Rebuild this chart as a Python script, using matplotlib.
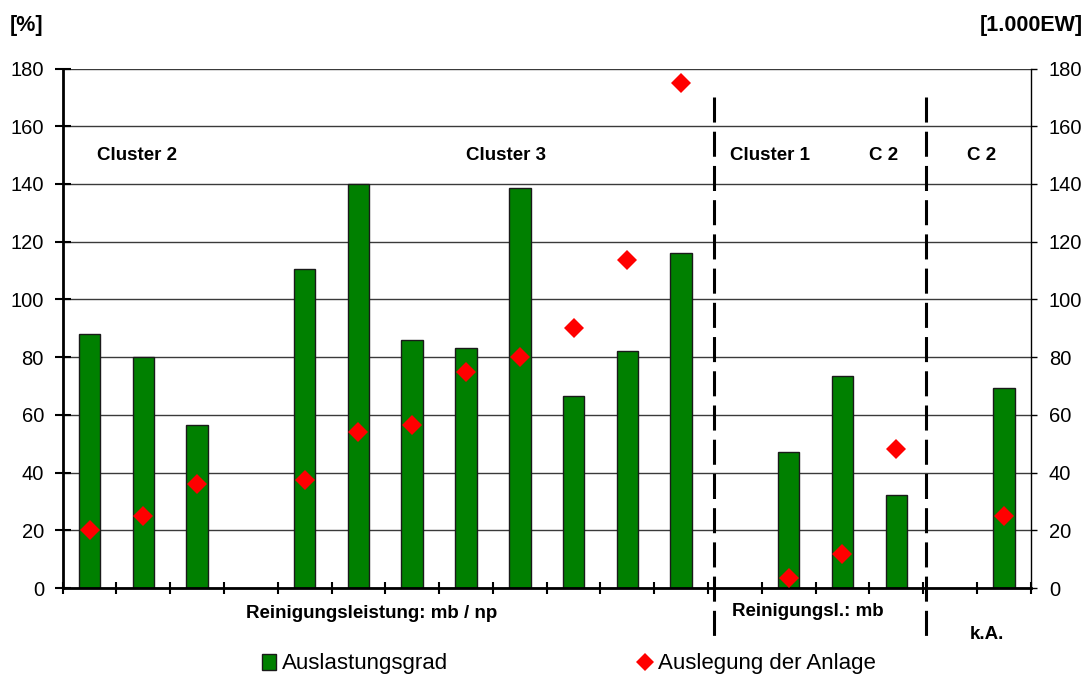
import numpy as np
import matplotlib
matplotlib.use("Agg")
import matplotlib.pyplot as plt
from matplotlib.lines import Line2D
from matplotlib.patches import Patch

plt.rcParams['font.family'] = ['Liberation Sans', 'DejaVu Sans']

# ---- data ----
auslastung = [88, 80, 56.5, None, 110.5, 140, 86, 83, 138.5, 66.5, 82, 116,
              None, 47.2, 73.4, 32.2, None, 69.3]
auslegung = [20, 25, 36, None, 37.4, 54, 56.5, 75, 80, 90, 113.5, 175,
             None, 3.6, 11.7, 48, None, 25]
yticks = [0, 20, 40, 60, 80, 100, 120, 140, 160, 180]
top_labels = ["Cluster 2", "Cluster 3", "Cluster 1", "C 2", "C 2"]
top_label_x = [1.385, 8.24, 13.16, 15.26, 17.09]
bottom_labels = ["Reinigungsleistung: mb / np", "Reinigungsl.: mb", "k.A."]
bottom_label_x = [5.74, 13.86, 17.18]
bottom_label_y = [-9.0, -8.2, -16.0]
divider_x = [12.12, 16.06]
legend_labels = ["Auslastungsgrad", "Auslegung der Anlage"]

n = len(auslastung)
x = np.arange(n) + 0.5
bar_mask = np.array([v is not None for v in auslastung])
bar_vals = np.array([v if v is not None else 0 for v in auslastung], float)
dia_mask = np.array([v is not None for v in auslegung])
dia_vals = np.array([v if v is not None else 0 for v in auslegung], float)

fig = plt.figure(figsize=(10.86, 6.77), dpi=100)
ax = fig.add_axes([62.7/1086, 1-588/677, (1030.7-62.7)/1086, (588-68.5)/677])

ax.set_xlim(0, n)
ax.set_ylim(0, 180)
ax.set_axisbelow(True)
ax.yaxis.grid(True, color='#3a3a3a', linewidth=1.0)

bars = ax.bar(x[bar_mask], bar_vals[bar_mask], width=0.40, color='#008000',
              edgecolor='#1a1a1a', linewidth=1.0, zorder=2)
dia, = ax.plot(x[dia_mask], dia_vals[dia_mask], linestyle='none', marker='D',
               markersize=10, color='#ff0000', markeredgewidth=0, zorder=3)

# dividers
for dx in divider_x:
    ax.plot([dx, dx], [170, -19.4], color='black', linewidth=2.2,
            linestyle=(0, (8.2, 3.0)), clip_on=False, zorder=4,
            solid_capstyle='butt', dash_capstyle='butt')

ax.set_xticks(np.arange(n + 1))
ax.set_xticklabels([])
ax.set_yticks(yticks)
ax.tick_params(axis='y', which='major', direction='inout', length=11, width=1.5,
               labelsize=14.5, pad=8, left=True, right=False)
ax.tick_params(axis='x', which='major', direction='inout', length=8.5, width=1.5)
ax.spines['top'].set_visible(False)
ax.spines['right'].set_visible(False)
ax.spines['left'].set_linewidth(2.0)
ax.spines['bottom'].set_linewidth(2.0)

ax2 = ax.twinx()
ax2.set_ylim(0, 180)
ax2.set_yticks(yticks)
ax2.tick_params(axis='y', direction='out', length=4, width=1.0, labelsize=14.5, pad=9)
for s in ['top', 'left', 'bottom']:
    ax2.spines[s].set_visible(False)
ax2.spines['right'].set_linewidth(1.0)

for lbl, lx in zip(top_labels, top_label_x):
    ax.text(lx, 150, lbl, ha='center', va='center', fontsize=13.5,
            fontweight='bold', zorder=5)
for lbl, lx, ly in zip(bottom_labels, bottom_label_x, bottom_label_y):
    ax.text(lx, ly, lbl, ha='center', va='center', fontsize=13.5,
            fontweight='bold', clip_on=False)

fig.text(10/1086, 1-25/677, "[%]", ha='left', va='center', fontsize=15.5,
         fontweight='bold')
fig.text(1083/1086, 1-25/677, "[1.000EW]", ha='right', va='center',
         fontsize=15.5, fontweight='bold')

h1 = Patch(facecolor='#008000', edgecolor='#1a1a1a', linewidth=1.0)
h2 = Line2D([], [], linestyle='none', marker='D', markersize=9,
            color='#ff0000', markeredgewidth=0)
leg1 = fig.legend([h1], [legend_labels[0]], loc='center left',
                  bbox_to_anchor=(262.3/1086, 1-664/677), frameon=False,
                  fontsize=16, borderpad=0, borderaxespad=0, handlelength=0.6,
                  handleheight=0.7, handletextpad=0.27)
leg2 = fig.legend([h2], [legend_labels[1]], loc='center left',
                  bbox_to_anchor=(638.4/1086, 1-664/677), frameon=False,
                  fontsize=16, borderpad=0, borderaxespad=0, handlelength=0.6,
                  handletextpad=0.28)

fig.savefig("out.png", dpi=100)
